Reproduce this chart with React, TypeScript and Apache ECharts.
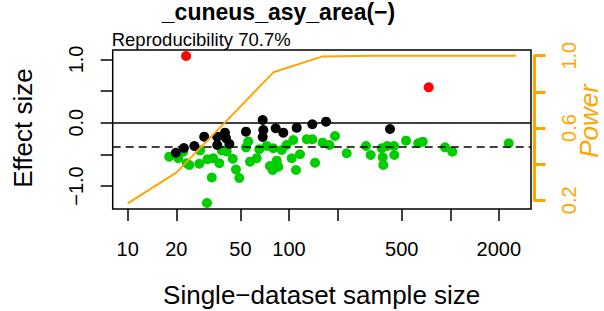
import React, { useEffect, useRef } from "react";
import * as echarts from "echarts";

const titleText = "_cuneus_asy_area(\u2212)";
const subtitleText = "Reproducibility 70.7%";

const greenN = [18.1, 20.3, 20.6, 22.1, 23.2, 24.1, 28.1, 27.8, 31.2, 33.9, 37.0, 33.2, 31.0, 38.3, 41.1, 44.8, 46.9, 49.2, 54.1, 55.9, 57.3, 63.1, 65.4, 72.7, 76.2, 79.2, 79.9, 83.9, 85.8, 90.1, 96.7, 103.9, 106.3, 110.5, 117.0, 128.8, 139.5, 145.0, 161.8, 177.8, 192.8, 227.9, 300.2, 321.0, 375.6, 381.0, 384.3, 406.8, 447.7, 449.6, 531.3, 633.2, 674.4, 926.8, 1029, 2302];
const greenE = [-0.537, -0.51, -0.562, -0.458, -0.641, -0.668, -0.439, -0.649, -0.578, -0.562, -0.641, -0.866, -1.269, -0.439, -0.455, -0.57, -0.739, -0.874, -0.389, -0.297, -0.616, -0.562, -0.42, -0.368, -0.684, -0.747, -0.404, -0.6, -0.695, -0.431, -0.352, -0.562, -0.273, -0.747, -0.499, -0.262, -0.262, -0.632, -0.316, -0.352, -0.21, -0.483, -0.368, -0.51, -0.404, -0.547, -0.668, -0.368, -0.368, -0.51, -0.284, -0.325, -0.3, -0.389, -0.458, -0.325];

const blackN = [19.9, 22.3, 25.9, 29.8, 35.9, 40.1, 40.7, 35.9, 42.7, 54.1, 68.7, 69.3, 68.7, 82.7, 92.2, 111.6, 139.5, 169.6, 422.8];
const blackE = [-0.474, -0.4, -0.368, -0.221, -0.221, -0.158, -0.246, -0.352, -0.336, -0.142, 0.043, -0.115, -0.226, -0.088, -0.158, -0.079, -0.025, 0.016, -0.1];

const redN = [23.0, 734.5];
const redE = [1.054, 0.559];

const powerN = [10, 20, 40, 80, 160, 320, 640, 1280, 2560];
const powerP = [0.183, 0.353, 0.63, 0.908, 0.995, 1, 1, 1, 1];

const zeroLine = 0;
const meanEffect = -0.379;

const xTicks = [10, 20, 50, 100, 200, 500, 1000, 2000];
const xLabels = [10, 20, 50, 100, 500, 2000];
const yTicks = [-1, -0.5, 0, 0.5, 1];
const yLabels = [-1, 0, 1];
const pTicks = [0.2, 0.4, 0.6, 0.8, 1.0];
const pLabels = [0.2, 0.6, 1.0];

const ORANGE = "#FFA500";
const GREEN = "#00CD00";
const FONT = "Liberation Sans, Arial, Helvetica, sans-serif";

const fmtY = (v: number) => (v < 0 ? "\u2212" : "") + Math.abs(v).toFixed(1);

export default function App() {
  const ref = useRef<HTMLDivElement>(null);
  useEffect(() => {
    if (!ref.current) return;
    const chart = echarts.init(ref.current, undefined, { renderer: "svg" });
    const lg = (n: number) => Math.log10(n);
    const pts = (ns: number[], es: number[]) => ns.map((n, i) => [lg(n), es[i]]);
    const scatterBase = { type: "scatter", xAxisIndex: 0, yAxisIndex: 0, symbolSize: 10, silent: true };
    chart.setOption({
      animation: false,
      backgroundColor: "#fff",
      grid: [
        { left: 112.7, right: 73, top: 50, bottom: 102, show: true, borderColor: "#000", borderWidth: 1.5, backgroundColor: "transparent" },
        { left: 112.7, right: 73, top: 55.7, bottom: 110.7, show: false },
      ],
      xAxis: [
        {
          type: "value",
          gridIndex: 0,
          position: "bottom",
          min: 0.907,
          max: 3.5003,
          axisLine: { show: false, onZero: false },
          splitLine: { show: false },
          axisTick: { show: true, length: 12, lineStyle: { color: "#000", width: 1.5 }, customValues: xTicks.map(lg) },
          axisLabel: {
            show: true,
            customValues: xLabels.map(lg),
            formatter: (v: number) => String(Math.round(Math.pow(10, v))),
            fontSize: 20,
            fontFamily: FONT,
            color: "#000",
            margin: 30,
          },
        },
        { type: "value", gridIndex: 1, min: 0, max: 1, show: false, axisLine: { onZero: false } },
      ],
      yAxis: [
        {
          type: "value",
          gridIndex: 0,
          position: "left",
          min: -1.3633,
          max: 1.1485,
          axisLine: { show: false, onZero: false },
          splitLine: { show: false },
          axisTick: { show: true, length: 12, lineStyle: { color: "#000", width: 1.5 }, customValues: yTicks },
          axisLabel: {
            show: true,
            customValues: yLabels,
            formatter: fmtY,
            rotate: 90,
            fontSize: 20,
            fontFamily: FONT,
            color: "#000",
            margin: 27,
          },
        },
        { type: "value", gridIndex: 0, position: "right", min: 0.1519, max: 1.0315, show: false, axisLine: { onZero: false } },
        {
          type: "value",
          gridIndex: 1,
          position: "right",
          offset: 3.5,
          min: 0.2,
          max: 1.0,
          interval: 0.2,
          splitLine: { show: false },
          axisLine: { show: true, onZero: false, lineStyle: { color: ORANGE, width: 3 } },
          axisTick: { show: true, length: 11, lineStyle: { color: ORANGE, width: 3 }, customValues: pTicks },
          axisLabel: {
            show: true,
            customValues: pLabels,
            formatter: (v: number) => v.toFixed(1),
            rotate: 90,
            fontSize: 20,
            fontFamily: FONT,
            color: ORANGE,
            margin: 24,
          },
        },
      ],
      series: [
        { ...scatterBase, name: "green", data: pts(greenN, greenE), itemStyle: { color: GREEN, opacity: 1 }, z: 2 },
        { ...scatterBase, name: "black", data: pts(blackN, blackE), itemStyle: { color: "#000", opacity: 1 }, z: 3 },
        { ...scatterBase, name: "red", data: pts(redN, redE), itemStyle: { color: "#FF0000", opacity: 1 }, z: 4 },
        {
          type: "line",
          name: "refs",
          xAxisIndex: 0,
          yAxisIndex: 0,
          data: [],
          silent: true,
          z: 5,
          markLine: {
            silent: true,
            symbol: "none",
            label: { show: false },
            data: [
              { yAxis: zeroLine, lineStyle: { color: "#000", width: 1.5, type: "solid" } },
              { yAxis: meanEffect, lineStyle: { color: "#000", width: 1.5, type: [8, 5] } },
            ],
          },
        },
        {
          type: "line",
          name: "power",
          xAxisIndex: 0,
          yAxisIndex: 1,
          data: powerN.map((n, i) => [lg(n), powerP[i]]),
          symbol: "none",
          silent: true,
          lineStyle: { color: ORANGE, width: 2 },
          z: 6,
        },
      ],
      graphic: [
        { type: "text", x: 278.5, y: 12, style: { text: titleText, font: `bold 23px ${FONT}`, fill: "#000", align: "center", verticalAlign: "middle" } },
        { type: "text", x: 111.7, y: 39, style: { text: subtitleText, font: `18.5px ${FONT}`, fill: "#000", align: "left", verticalAlign: "middle" } },
        { type: "text", x: 321.7, y: 295, style: { text: "Single\u2212dataset sample size", font: `26px ${FONT}`, fill: "#000", align: "center", verticalAlign: "middle" } },
        { type: "text", x: 23, y: 128, rotation: Math.PI / 2, style: { text: "Effect size", font: `26px ${FONT}`, fill: "#000", align: "center", verticalAlign: "middle" } },
        { type: "text", x: 589, y: 121, rotation: Math.PI / 2, style: { text: "Power", font: `italic 26px ${FONT}`, fill: ORANGE, align: "center", verticalAlign: "middle" } },
      ],
    });
    return () => chart.dispose();
  }, []);
  return <div ref={ref} style={{ position: "fixed", left: 0, top: 0, width: 604, height: 311 }} />;
}
